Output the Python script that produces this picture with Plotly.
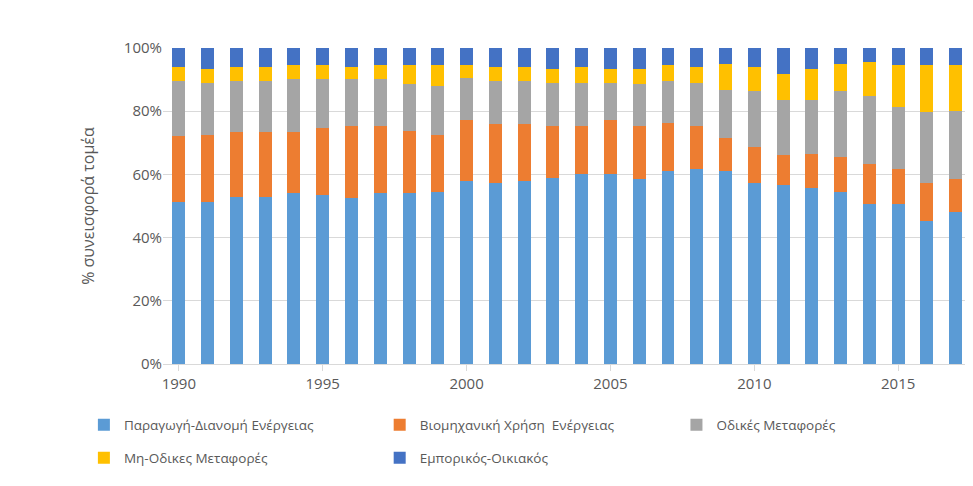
import plotly.graph_objects as go

years = list(range(1990, 2018))
names = ["Παραγωγή-Διανομή Ενέργειας", "Βιομηχανική Χρήση  Ενέργειας", "Οδικές Μεταφορές",
         "Μη-Οδικες Μεταφορές", "Εμπορικός-Οικιακός"]
colors = ["#5b9bd5", "#ed7d31", "#a5a5a5", "#ffc000", "#4472c4"]
energy = [51.3,51.3,53.0,53.0,54.0,53.5,52.4,54.0,54.0,54.5,57.9,57.3,57.8,59.0,60.0,60.0,58.5,61.2,61.7,61.2,57.3,56.8,55.7,54.5,50.6,50.6,45.2,48.0]
industry = [20.8,21.3,20.3,20.3,19.3,21.2,23.0,21.4,19.7,18.1,19.2,18.6,18.1,16.4,15.4,17.1,16.9,15.2,13.7,10.4,11.5,9.3,10.9,11.0,12.7,11.1,12.1,10.5]
road = [17.4,16.4,16.2,16.2,16.8,15.4,14.7,14.7,14.8,15.3,13.5,13.6,13.6,13.6,13.6,11.9,13.1,13.1,13.6,15.2,17.5,17.5,17.0,20.8,21.4,19.7,22.4,21.7]
nonroad = [4.5,4.4,4.5,4.5,4.4,4.4,3.9,4.4,6.0,6.6,3.9,4.5,4.5,4.4,5.0,4.4,4.9,5.0,5.0,8.2,7.7,8.2,9.8,8.7,10.9,13.1,14.8,14.3]
commercial = [6.0,6.6,6.0,6.0,5.5,5.5,6.0,5.5,5.5,5.5,5.5,6.0,6.0,6.6,6.0,6.6,6.6,5.5,6.0,5.0,6.0,8.2,6.6,5.0,4.4,5.5,5.5,5.5]
series = [energy, industry, road, nonroad, commercial]
legend_ids = ["legend2", "legend3", "legend4", "legend5", "legend6"]

fig = go.Figure()
for n, c, v, lg in zip(names, colors, series, legend_ids):
    fig.add_trace(go.Bar(x=years, y=v, name=n, legend=lg,
                         marker=dict(color=c, line=dict(width=0))))

leg_pos = [(0.078, 0.142), (0.382, 0.142), (0.687, 0.142), (0.078, 0.074), (0.382, 0.074)]
legends = {lg: dict(x=px, y=py, orientation="h", xref="container", yref="container",
                    yanchor="middle", xanchor="left", font=dict(size=13.5), itemwidth=30)
           for lg, (px, py) in zip(legend_ids, leg_pos)}

fig.update_layout(
    barmode="stack", barnorm="percent", bargap=0.55, showlegend=True,
    width=973, height=486, paper_bgcolor="white", plot_bgcolor="white",
    margin=dict(l=155, r=8, t=40, b=130, autoexpand=False),
    font=dict(family="Open Sans, Liberation Sans, sans-serif", color="#595959", size=15),
    xaxis=dict(tickmode="array", tickvals=[1990, 1995, 2000, 2005, 2010, 2015],
               ticks="outside", ticklen=6, tickcolor="#d9d9d9", showline=True,
               linecolor="#d9d9d9", range=[1989.45, 2017.6], showgrid=False),
    yaxis=dict(range=[0, 100], dtick=20, ticksuffix="%", gridcolor="#d9d9d9",
               zeroline=False, title=dict(text="% συνεισφορά τομέα", font=dict(size=16), standoff=25)),
    **legends,
)
fig.write_html("out.html")
